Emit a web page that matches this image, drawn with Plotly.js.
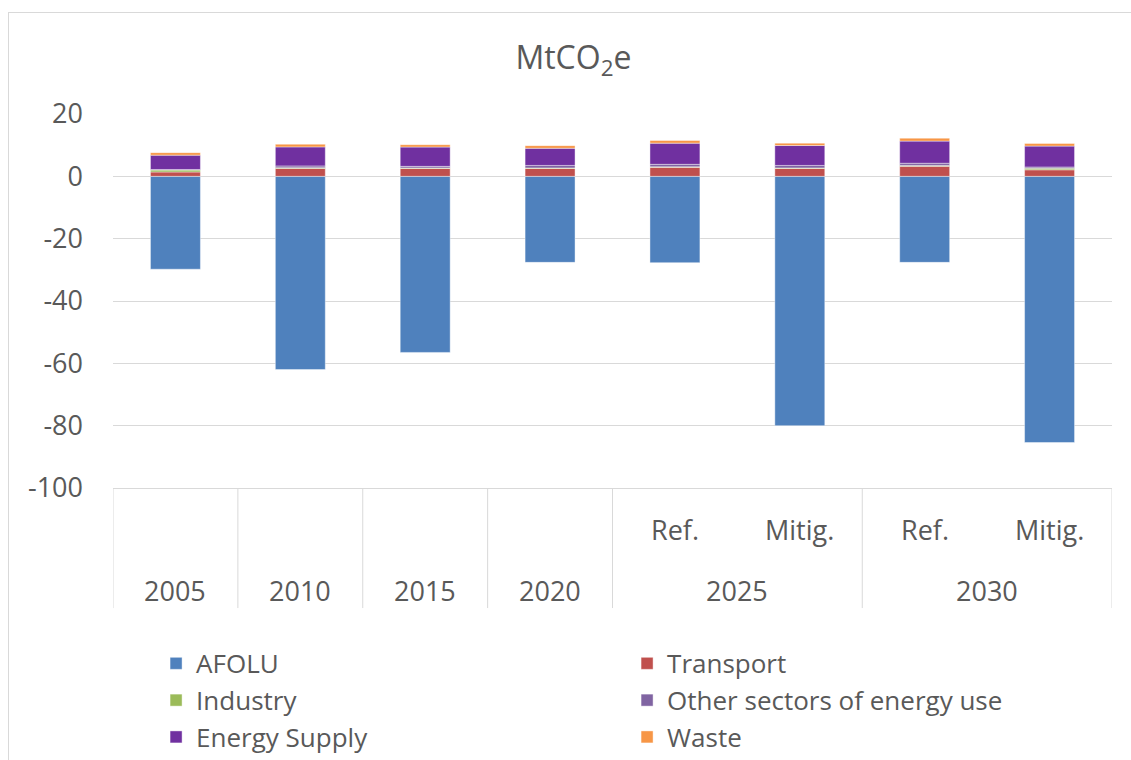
<!DOCTYPE html>
<html>
<head>
<meta charset="utf-8">
<script src="https://cdn.plot.ly/plotly-3.0.1.min.js"></script>
<style>
  html,body{margin:0;padding:0;background:#fff;overflow:hidden;}
  #frame{position:absolute;left:8px;top:12px;width:1140px;height:760px;border:1px solid #d9d9d9;pointer-events:none;}
  #chart{position:absolute;left:0;top:0;width:1131px;height:760px;}
</style>
</head>
<body>
<div id="frame"></div>
<div id="chart"></div>
<script>
// categories (one bar each), with their two label rows
const cats = ['2005','2010','2015','2020','2025 Ref.','2025 Mitig.','2030 Ref.','2030 Mitig.'];
const subLabels = ['Ref.','Mitig.','Ref.','Mitig.'];
const subCats = ['2025 Ref.','2025 Mitig.','2030 Ref.','2030 Mitig.'];
const yearLabels = ['2005','2010','2015','2020','2025','2030'];
const yTicks = [20, 0, -20, -40, -60, -80, -100];
const yTickText = ['20', '0', '-20', '-40', '-60', '-80', '-100'];

// MtCO2e by sector
const afolu     = [-29.8, -62.0, -56.5, -27.6, -27.7, -80.0, -27.6, -85.4];
const transport = [1.4, 2.55, 2.55, 2.55, 2.9, 2.55, 3.2, 2.1];
const industry  = [0.6, 0.2, 0.15, 0.15, 0.15, 0.15, 0.3, 0.5];
const otherUse  = [0.2, 0.6, 0.5, 0.8, 0.8, 0.8, 0.7, 0.4];
const energySup = [4.6, 6.1, 6.2, 5.5, 6.8, 6.4, 7.1, 6.7];
const waste     = [0.8, 0.85, 0.75, 0.85, 0.85, 0.75, 0.95, 0.85];

const series = [
  {name:'AFOLU', y:afolu, color:'#4f81bd'},
  {name:'Transport', y:transport, color:'#c0504d'},
  {name:'Industry', y:industry, color:'#9bbb59'},
  {name:'Other sectors of energy use', y:otherUse, color:'#8064a2'},
  {name:'Energy Supply', y:energySup, color:'#7030a0'},
  {name:'Waste', y:waste, color:'#f79646'}
];

const FONT = '"Open Sans", sans-serif';
const TXT = '#595959';

const traces = series.map(s => ({
  type:'bar', name:s.name, x:cats, y:s.y,
  marker:{color:s.color, line:{color:'rgba(255,255,255,0.6)', width:0.7}},
  hoverinfo:'name+y'
}));

// year labels sit under the middle of their group (category index)
const yearPos = [0, 1, 2, 3, 4.5, 6.5];
const annotations = [];
yearLabels.forEach((t,i)=>{
  annotations.push({xref:'x', yref:'paper', x:yearPos[i], y:-0.273, text:t, showarrow:false,
    xanchor:'center', yanchor:'middle', font:{family:FONT, size:27, color:TXT}});
});
subLabels.forEach((t,i)=>{
  annotations.push({xref:'x', yref:'paper', x:subCats[i], y:-0.112, text:t, showarrow:false,
    xanchor:'center', yanchor:'middle', font:{family:FONT, size:27, color:TXT}});
});

// divider lines of the category table
const dividers = [-0.5, 0.5, 1.5, 2.5, 3.5, 5.5, 7.5];
const shapes = dividers.map(d => ({type:'line', xref:'x', yref:'paper', x0:d, x1:d, y0:0, y1:-0.321,
  line:{color:'#d9d9d9', width:1}}));

const layout = {
  width:1131, height:760,
  margin:{l:113, r:19, t:114, b:272},
  paper_bgcolor:'rgba(0,0,0,0)', plot_bgcolor:'rgba(0,0,0,0)',
  font:{family:FONT, size:26, color:TXT},
  title:{text:'MtCO<sub>2</sub>e', xref:'container', yref:'container', x:0.507, y:0.924,
    xanchor:'center', yanchor:'middle', font:{family:FONT, size:32, color:TXT}},
  barmode:'relative', bargap:0.6,
  showlegend:true,
  legend:{orientation:'h', traceorder:'normal', xref:'container', yref:'container',
    x:0.138, xanchor:'left', y:0.158, yanchor:'top',
    entrywidth:426, entrywidthmode:'pixels', font:{family:FONT, size:26, color:TXT}, itemclick:false},
  xaxis:{type:'category', range:[-0.5, 7.5], showticklabels:false, showgrid:false, zeroline:false,
    showline:true, linecolor:'#d9d9d9', linewidth:1, fixedrange:true},
  yaxis:{range:[-100, 20], tickmode:'array', tickvals:yTicks, ticktext:yTickText,
    showgrid:true, gridcolor:'#d9d9d9', gridwidth:1, zeroline:false,
    showline:false, ticks:'', ticklabelstandoff:29, tickfont:{family:FONT, size:27, color:TXT}, fixedrange:true},
  annotations:annotations,
  shapes:shapes
};

Plotly.newPlot('chart', traces, layout, {displayModeBar:false, staticPlot:true});
</script>
</body>
</html>
